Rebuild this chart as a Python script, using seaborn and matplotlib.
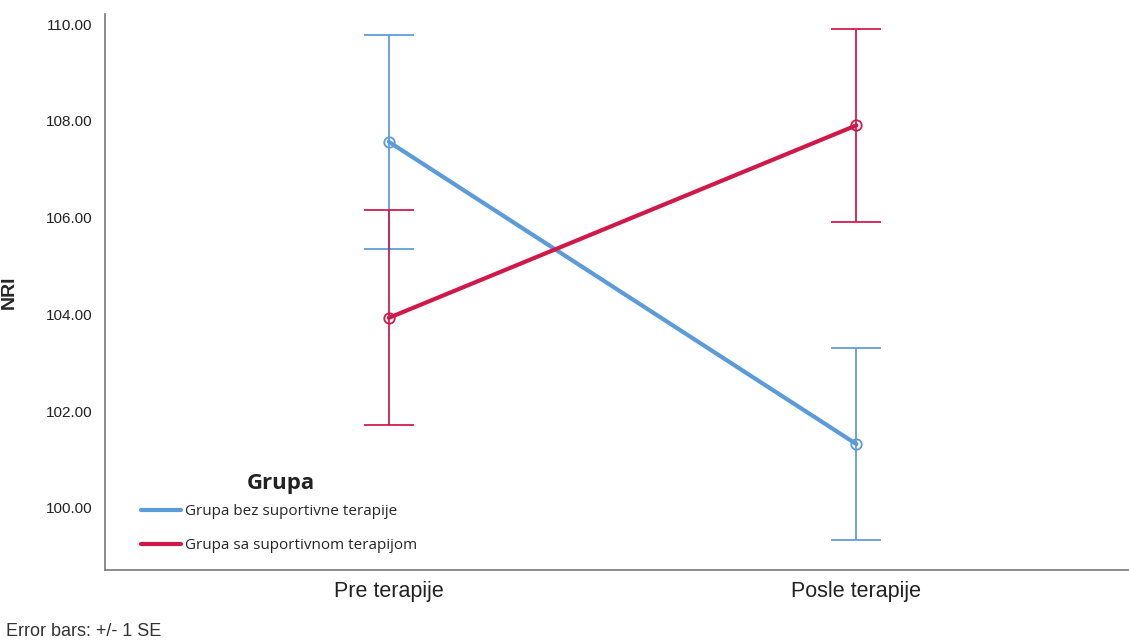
import matplotlib
matplotlib.use("Agg")
import matplotlib.pyplot as plt
from matplotlib.lines import Line2D
import seaborn as sns
import pandas as pd
import numpy as np

# Estimated marginal means of NRI with standard errors
times = ["Pre terapije", "Posle terapije"]
groups = ["Grupa bez suportivne terapije", "Grupa sa suportivnom terapijom"]
mean_bez = [107.57, 101.32]
se_bez = [2.21, 1.99]
mean_sa = [103.93, 107.91]
se_sa = [2.22, 2.00]

colors = {groups[0]: "#5B9BDA", groups[1]: "#D0194B"}

df = pd.DataFrame({
    "Vreme": times * 2,
    "NRI": mean_bez + mean_sa,
    "SE": se_bez + se_sa,
    "Grupa": [groups[0]] * 2 + [groups[1]] * 2,
})

sns.set_style("white")
plt.rcParams["font.family"] = ["Liberation Sans", "DejaVu Sans"]

fig = plt.figure(figsize=(11.29, 6.41), dpi=100)
ax = fig.add_axes([0.093, 0.111, 0.907, 0.867])

sns.pointplot(data=df, x="Vreme", y="NRI", hue="Grupa", hue_order=groups,
              order=times, palette=colors, errorbar=None, markers="o",
              linestyles="-", markersize=7.5, linewidth=3, legend=False, ax=ax)

# Hollow circle markers on the mean lines
for ln in ax.lines:
    if ln.get_marker() == "o":
        ln.set_markeredgecolor(ln.get_color())
        ln.set_markerfacecolor("none")
        ln.set_markeredgewidth(1.3)
        ln.set_zorder(3)

# Error bars (+/- 1 SE), thin
for g in groups:
    sub = df[df["Grupa"] == g]
    ax.errorbar(np.arange(len(times)), sub["NRI"], yerr=sub["SE"], fmt="none",
                ecolor=colors[g], elinewidth=1.4, capsize=18, capthick=1.4,
                alpha=0.9, zorder=2)

ax.set_xlim(-0.607, 1.583)
ax.set_ylim(98.72, 110.21)
ax.set_yticks([100, 102, 104, 106, 108, 110])
ax.set_yticklabels([f"{v:.2f}" for v in [100, 102, 104, 106, 108, 110]],
                   fontsize=11, color="#222222")
ax.tick_params(axis="x", labelsize=15.5, colors="#222222", length=0, pad=8)
ax.tick_params(axis="y", length=0, pad=9)
ax.set_xlabel("")
ax.set_ylabel("NRI", fontsize=14, fontweight="bold")
ax.yaxis.set_label_coords(-0.085, 0.5)

for side in ["top", "right"]:
    ax.spines[side].set_visible(False)
for side in ["left", "bottom"]:
    ax.spines[side].set_color("#777777")
    ax.spines[side].set_linewidth(1.2)

handles = [Line2D([0], [0], color=colors[g], lw=3) for g in groups]
leg = ax.legend(handles, groups, loc="lower left",
                bbox_to_anchor=(0.022, 0.005), frameon=False,
                prop={"family": "Open Sans", "size": 11},
                handlelength=2.6, handletextpad=0.25, labelspacing=1.25)
ax.text(0.172, 0.156, "Grupa", transform=ax.transAxes, ha="center",
        va="center", fontsize=16, fontweight="bold", family="Open Sans",
        color="#222222")

fig.text(0.005, 0.008, "Error bars: +/- 1 SE", fontsize=13, color="#333333")

fig.savefig("out.png", dpi=100, facecolor="white")
